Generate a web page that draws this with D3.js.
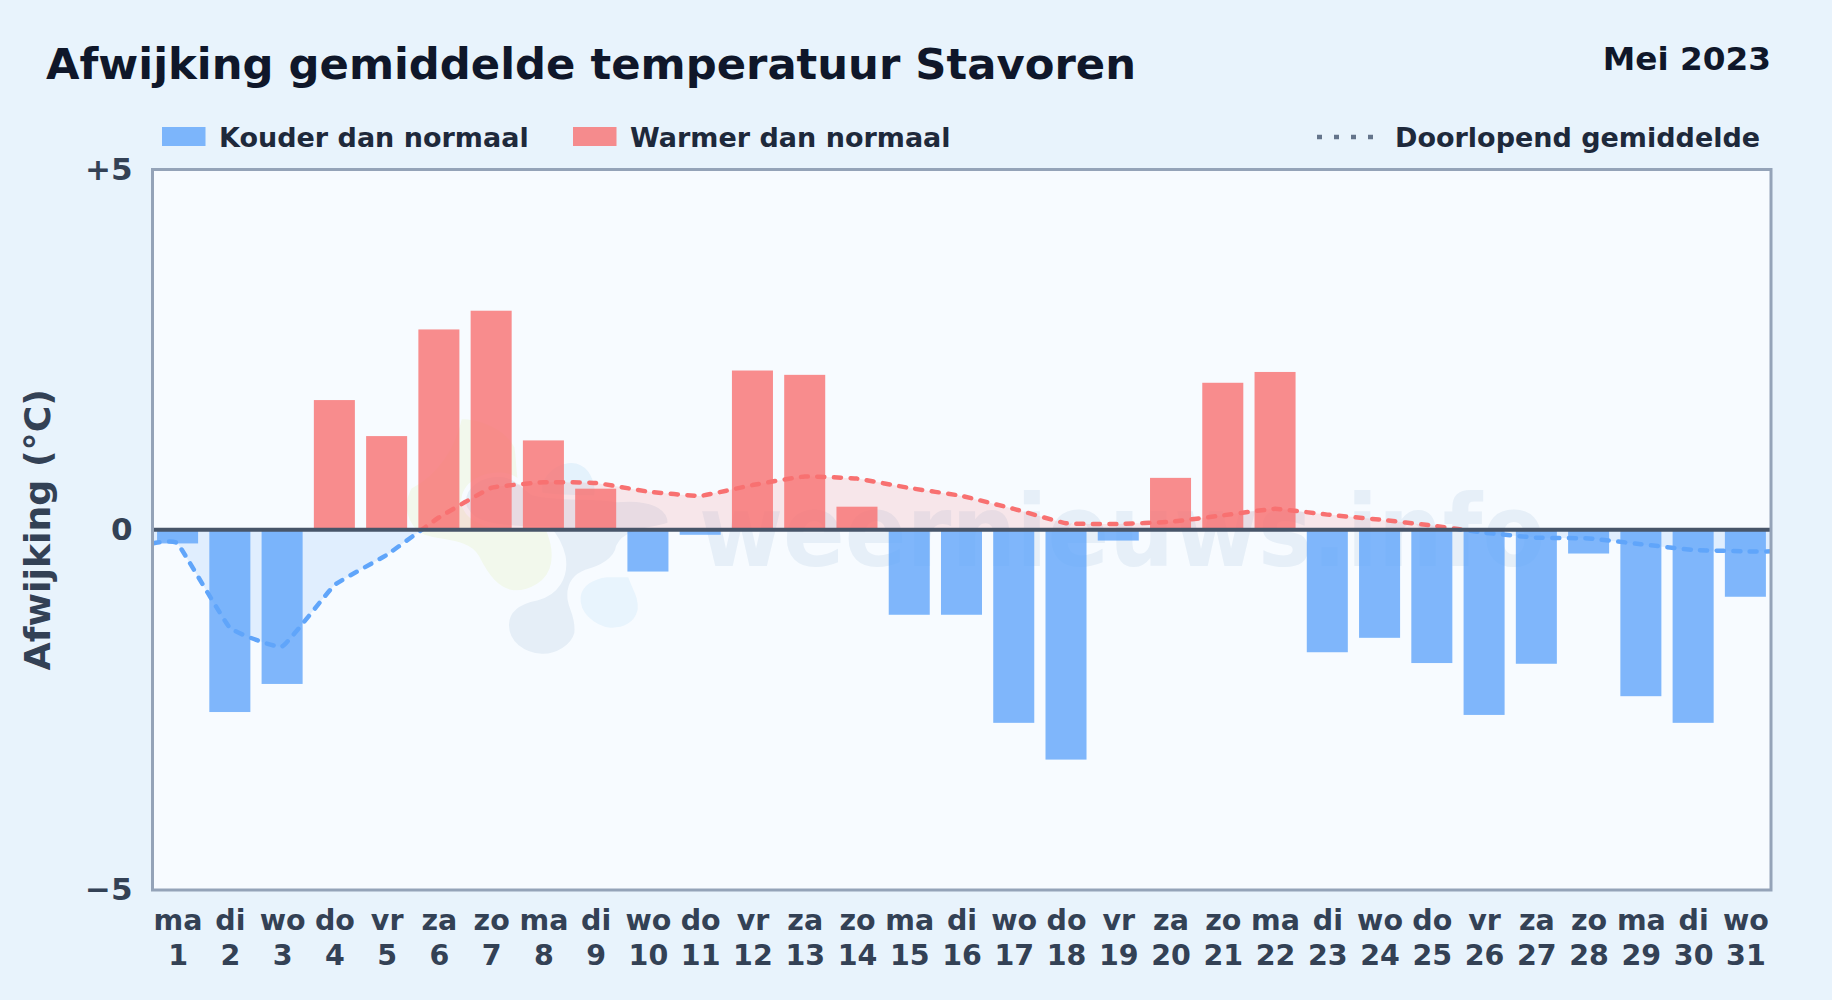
<!DOCTYPE html>
<html>
<head>
<meta charset="utf-8">
<script src="https://cdn.jsdelivr.net/npm/d3@7"></script>
<style>
  html, body { margin: 0; padding: 0; background: #e8f3fc; }
  svg { display: block; font-family: "DejaVu Sans", sans-serif; font-weight: 700; }
</style>
</head>
<body>
<svg id="chart" width="1832" height="1000"></svg>
<script>
const days = d3.range(1, 32);
const weekdays = ['ma','di','wo','do','vr','za','zo','ma','di','wo','do','vr','za','zo','ma','di','wo','do','vr','za','zo','ma','di','wo','do','vr','za','zo','ma','di','wo'];
const deviation = [-0.19,-2.53,-2.14,1.80,1.30,2.78,3.04,1.24,0.57,-0.58,-0.07,2.21,2.15,0.32,-1.18,-1.18,-2.68,-3.19,-0.15,0.72,2.04,2.19,-1.70,-1.50,-1.85,-2.57,-1.86,-0.33,-2.31,-2.68,-0.93];
const runningMean = [-0.19,-1.36,-1.62,-0.77,-0.35,0.17,0.58,0.66,0.65,0.53,0.47,0.62,0.74,0.71,0.58,0.47,0.29,0.09,0.08,0.11,0.20,0.29,0.21,0.14,0.06,-0.04,-0.11,-0.12,-0.20,-0.28,-0.30];
const yTicks = [-5, 0, 5];

const BLUE = '#60a5fa', RED = '#f87171';
const PLOT_BG = '#f7fbff';
const plot = { left: 152.5, right: 1771, top: 169.5, bottom: 890 };

const x = d3.scaleLinear().domain([0.52, 31.49]).range([plot.left, plot.right]);
const y = d3.scaleLinear().domain([-5, 5]).range([plot.bottom, plot.top]);
const barWidth = x(1.785) - x(1);

const svg = d3.select('#chart');

const defs = svg.append('defs');

// the running mean is one path, cut in two at the zero line
defs.append('clipPath').attr('id', 'above').append('rect')
  .attr('x', plot.left).attr('y', plot.top).attr('width', plot.right - plot.left).attr('height', y(0) - plot.top);
defs.append('clipPath').attr('id', 'below').append('rect')
  .attr('x', plot.left).attr('y', y(0)).attr('width', plot.right - plot.left).attr('height', plot.bottom - y(0));

svg.append('rect').attr('width', 1832).attr('height', 1000).attr('fill', '#e8f3fc');
svg.append('rect')
  .attr('x', plot.left).attr('y', plot.top)
  .attr('width', plot.right - plot.left).attr('height', plot.bottom - plot.top)
  .attr('fill', PLOT_BG);

// watermark: logo blobs, traced at 3x, plus the site name
const logo = svg.append('g').attr('transform', 'translate(360,380) scale(0.3333)');
const blobs = [
  ['#f2f8ec', 'M300 110 C360 110 440 140 470 200 C480 260 470 300 500 350 C560 420 590 490 580 550 C570 610 510 640 460 638 C410 630 380 590 350 530 C320 480 240 490 190 470 C130 440 120 370 150 320 C230 280 280 200 300 110 Z'],
  ['#e4f2fc', 'M540 310 C570 240 650 220 690 270 C710 300 720 340 700 365 L540 365 Z'],
  ['#e5eef7', 'M440 735 C440 690 480 665 530 655 C590 640 620 590 610 530 C603 500 590 470 565 445 L480 445 C420 440 330 440 310 370 C310 310 370 280 430 285 C470 290 490 320 520 340 C600 360 680 345 770 360 C870 350 930 380 930 430 C920 450 800 440 775 500 C770 540 720 565 680 575 C640 590 625 620 630 660 C635 690 655 710 650 760 C640 800 590 830 545 828 C490 825 440 790 440 735 Z'],
  ['#e8f4fd', 'M655 650 C660 610 700 590 740 585 L810 585 C820 620 845 650 840 690 C830 735 790 752 750 750 C700 745 650 700 655 650 Z']
];
logo.selectAll('path').data(blobs).join('path')
  .attr('fill', d => d[0])
  .attr('d', d => d[1])
  .attr('stroke', PLOT_BG).attr('stroke-width', 14);
svg.append('text')
  .attr('x', 699).attr('y', 566)
  .attr('font-size', 100)
  .attr('textLength', 846).attr('lengthAdjust', 'spacingAndGlyphs')
  .attr('fill', '#e6eff8')
  .text('weernieuws.info');

// soft fill between the running mean and zero
const lineDays = [x.domain()[0], ...days, x.domain()[1]];
const lineVals = [runningMean[0], ...runningMean, runningMean[30]];
const linePts = lineDays.map((d, i) => [d, lineVals[i]]);

const curve = d3.curveCardinal.tension(0.7);
const area = d3.area().x(d => x(d[0])).y0(y(0)).y1(d => y(d[1])).curve(curve);
const line = d3.line().x(d => x(d[0])).y(d => y(d[1])).curve(curve);

[['above', RED], ['below', BLUE]].forEach(([clip, col]) => {
  svg.append('path').datum(linePts)
    .attr('clip-path', `url(#${clip})`)
    .attr('d', area).attr('fill', col).attr('opacity', 0.15);
});

svg.append('g').selectAll('rect')
  .data(deviation)
  .join('rect')
  .attr('x', (d, i) => x(days[i]) - barWidth / 2)
  .attr('width', barWidth)
  .attr('y', d => y(Math.max(d, 0)))
  .attr('height', d => Math.abs(y(d) - y(0)))
  .attr('fill', d => d < 0 ? BLUE : RED)
  .attr('opacity', 0.8);

[['above', RED], ['below', BLUE]].forEach(([clip, col]) => {
  svg.append('path').datum(linePts)
    .attr('clip-path', `url(#${clip})`)
    .attr('d', line)
    .attr('fill', 'none')
    .attr('stroke', col)
    .attr('stroke-width', 4.5)
    .attr('stroke-linecap', 'round')
    .attr('stroke-dasharray', '7 9.5');
});

// zero line and frame
svg.append('line')
  .attr('x1', plot.left).attr('x2', plot.right)
  .attr('y1', y(0)).attr('y2', y(0))
  .attr('stroke', '#475569').attr('stroke-width', 4);
svg.append('rect')
  .attr('x', plot.left).attr('y', plot.top)
  .attr('width', plot.right - plot.left).attr('height', plot.bottom - plot.top)
  .attr('fill', 'none').attr('stroke', '#94a3b8').attr('stroke-width', 3);

// axes
const fmt = d => d > 0 ? '+' + d : d < 0 ? '\u2212' + (-d) : '0';
const yAxis = d3.axisLeft(y).tickValues(yTicks).tickFormat(fmt).tickSize(0).tickPadding(20);
const gy = svg.append('g').attr('transform', `translate(${plot.left},0)`).call(yAxis);
gy.attr('font-family', null).attr('font-size', null);
gy.select('.domain').remove();
gy.selectAll('text').attr('font-size', 31).attr('fill', '#334155');

const xAxis = d3.axisBottom(x).tickValues(days).tickSize(0).tickFormat(d => d);
const gx = svg.append('g').attr('transform', `translate(0,${plot.bottom})`).call(xAxis);
gx.attr('font-family', null).attr('font-size', null);
gx.select('.domain').remove();
gx.selectAll('text')
  .attr('font-size', 28.5).attr('fill', '#334155')
  .attr('y', 75).attr('dy', 0);
gx.selectAll('.tick').append('text')
  .attr('y', 40).attr('text-anchor', 'middle')
  .attr('font-size', 28.5).attr('fill', '#334155')
  .text((d, i) => weekdays[i]);

svg.append('text')
  .attr('transform', `translate(50,${(plot.top + plot.bottom) / 2}) rotate(-90)`)
  .attr('text-anchor', 'middle')
  .attr('font-size', 36.3).attr('fill', '#334155')
  .text('Afwijking (°C)');

// header
svg.append('text').attr('x', 46).attr('y', 79)
  .attr('font-size', 43.3).attr('fill', '#0f172a')
  .text('Afwijking gemiddelde temperatuur Stavoren');
svg.append('text').attr('x', 1771).attr('y', 70).attr('text-anchor', 'end')
  .attr('font-size', 32.7).attr('fill', '#0f172a')
  .text('Mei 2023');

// legend
const legendItems = [
  { label: 'Kouder dan normaal', col: BLUE, x: 162 },
  { label: 'Warmer dan normaal', col: RED, x: 573 }
];
const legend = svg.append('g');
legend.selectAll('rect').data(legendItems).join('rect')
  .attr('x', d => d.x).attr('y', 127)
  .attr('width', 43.5).attr('height', 19)
  .attr('fill', d => d.col).attr('opacity', 0.8);
legend.selectAll('text').data(legendItems).join('text')
  .attr('x', d => d.x + 57).attr('y', 147)
  .attr('font-size', 27).attr('fill', '#1e293b')
  .text(d => d.label);
legend.append('line')
  .attr('x1', 1317).attr('x2', 1375).attr('y1', 137).attr('y2', 137)
  .attr('stroke', '#64748b').attr('stroke-width', 4.5)
  .attr('stroke-dasharray', '5 12');
legend.append('text')
  .attr('x', 1395).attr('y', 147)
  .attr('font-size', 27).attr('fill', '#1e293b')
  .text('Doorlopend gemiddelde');
</script>
</body>
</html>
